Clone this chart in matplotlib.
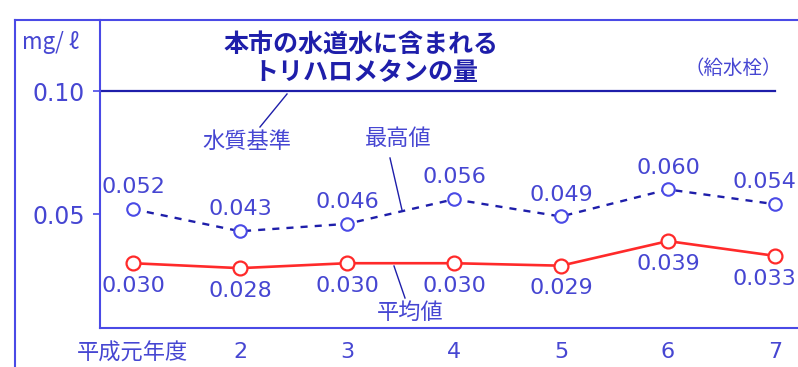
import matplotlib.pyplot as plt
from matplotlib.lines import Line2D

plt.rcParams['font.family'] = ['Noto Sans CJK JP', 'DejaVu Sans']

years = [1, 2, 3, 4, 5, 6, 7]
year_labels = ['平成元年度', '2', '3', '4', '5', '6', '7']
max_vals = [0.052, 0.043, 0.046, 0.056, 0.049, 0.060, 0.054]
avg_vals = [0.030, 0.028, 0.030, 0.030, 0.029, 0.039, 0.033]
standard = 0.10

blue = '#4a4ae6'
txt = '#4646d2'
dark = '#1e1eaa'
red = '#ff2a2a'
num_font = ['DejaVu Sans']

W, H = 798, 367
fig = plt.figure(figsize=(W / 100, H / 100), dpi=100)

def fx(px):
    return px / W

def fy(py):
    return 1 - py / H

ax = fig.add_axes([fx(100), fy(328), fx(798) - fx(100), fy(20) - fy(328)])
ax.set_xlim(0.692, 7.215)
ax.set_ylim(0.00366, 0.1289)

ax.plot(years, max_vals, ls=(0, (3, 3)), color=dark, lw=1.7, marker='o', ms=9,
        mfc='white', mec=blue, mew=1.5)
ax.plot(years, avg_vals, ls='-', color=red, lw=1.9, marker='o', ms=10,
        mfc='white', mec=red, mew=1.6)
ax.plot([0.692, 7.0], [standard, standard], color=dark, lw=1.6)

# the last labels sit a little left of their point in the original
for i, (x, v) in enumerate(zip(years, max_vals)):
    lx = x - 0.1 if i == len(years) - 1 else x
    ax.text(lx, v + 0.0048, f'{v:.3f}', ha='center', va='bottom', fontsize=16,
            color=txt, family=num_font)
for i, (x, v) in enumerate(zip(years, avg_vals)):
    lx = x - 0.1 if i == len(years) - 1 else x
    ax.text(lx, v - 0.0052, f'{v:.3f}', ha='center', va='top', fontsize=16,
            color=txt, family=num_font)

for s in ['top', 'right']:
    ax.spines[s].set_visible(False)
for s in ['left', 'bottom']:
    ax.spines[s].set_color(blue)
    ax.spines[s].set_linewidth(1.5)

ax.set_xticks(years)
ax.set_xticklabels(year_labels, fontsize=16, color=txt)
for lab in ax.get_xticklabels()[1:]:
    lab.set_family(num_font)
ax.set_yticks([0.05, 0.10])
ax.set_yticklabels(['0.05', '0.10'], fontsize=17, color=txt, family=num_font)
ax.tick_params(axis='x', length=0, pad=10)
ax.tick_params(axis='y', length=5, width=1.2, color=blue, pad=6)

# outer frame
fig.add_artist(Line2D([fx(15), fx(15)], [fy(20), 0], color=blue, lw=1.5))
fig.add_artist(Line2D([fx(15), 1], [fy(20), fy(20)], color=blue, lw=1.5))

fig.text(fx(22), fy(42), 'mg/ ℓ', fontsize=16, color=txt, va='center')
fig.text(fx(361), fy(45), '本市の水道水に含まれる', fontsize=18, fontweight='bold',
         color=dark, ha='center', va='center')
fig.text(fx(366), fy(73), 'トリハロメタンの量', fontsize=18, fontweight='bold',
         color=dark, ha='center', va='center')
fig.text(fx(733), fy(68), '（給水栓）', fontsize=14, color=txt, ha='center', va='center')

# leaders
fig.text(fx(247), fy(141), '水質基準', fontsize=16, color=txt, ha='center', va='center')
fig.add_artist(Line2D([fx(287), fx(260)], [fy(94), fy(127)], color=dark, lw=1))
fig.text(fx(398), fy(139), '最高値', fontsize=16, color=txt, ha='center', va='center')
fig.add_artist(Line2D([fx(390), fx(402)], [fy(158), fy(210)], color=dark, lw=1))
fig.text(fx(410), fy(312), '平均値', fontsize=16, color=txt, ha='center', va='center')
fig.add_artist(Line2D([fx(394), fx(405)], [fy(266), fy(298)], color=dark, lw=1))

fig.savefig('out.png', dpi=100)
